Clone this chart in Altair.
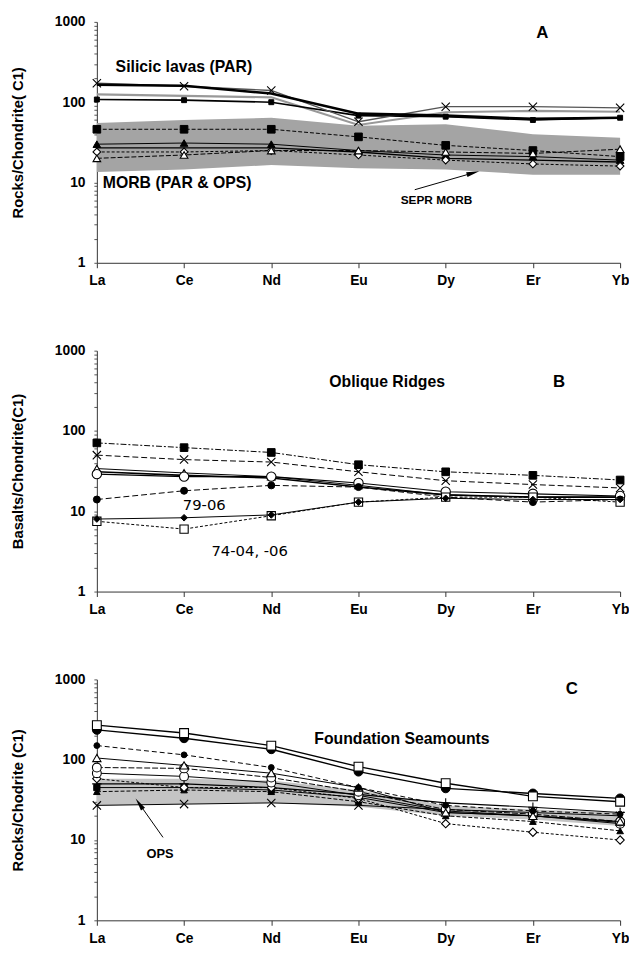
import altair as alt
import pandas as pd

EL = ["La", "Ce", "Nd", "Eu", "Dy", "Er", "Yb"]

# ---------------- Panel A ----------------
A_BAND_HI = [55, 60, 64, 51, 53, 40, 36]
A_BAND_LO = [13.5, 14.5, 16.5, 15, 14.5, 12.5, 12.5]
A_SIL1 = [165, 160, 128, 72, 68, 62, 64]
A_SIL2 = [172, 158, 140, 57, 88, 88, 85]
A_SIL3 = [125, 120, 115, 52, 75, 78, 76]
A_SIL4 = [108, 106, 100, 68, 66, 60, 64]
A_MORB1 = [46, 46, 46, 37, 29, 25, 21]
A_MORB2 = [30, 31, 30, 25, 22, 21, 19]
A_MORB3 = [20, 22, 25, 25, 24, 23, 26]
A_MORB4 = [27, 27, 27, 24, 20, 19, 18]
A_SEPR = [24, 24, 25, 22, 19, 17, 16]

# ---------------- Panel B ----------------
B_S1 = [71, 62, 54, 38, 31, 28, 24.5]
B_S2 = [50, 44, 41, 31, 24, 21.5, 19.5]
B_S3 = [34, 30, 27, 21, 16, 15, 15]
B_S4 = [29, 27, 27, 22.5, 17.5, 16.5, 15.5]
B_S5 = [31, 28, 26, 20, 16, 15, 15]
B_7906 = [14, 18, 21, 20, 15, 13, 14]
B_7404 = [8, 8.3, 9, 13, 14.5, 14, 14]
B_7406 = [7.5, 6, 8.8, 13, 15, 15, 13]

# ---------------- Panel C ----------------
C_BAND_HI = [58, 58, 55, 42, 27, 24, 22]
C_BAND_LO = [27, 28, 29, 26, 20, 18, 15]
C_S1 = [270, 215, 150, 82, 51, 35, 30]
C_S2 = [235, 185, 135, 71, 44, 38, 33]
C_S3 = [150, 115, 80, 45, 27, 23, 21]
C_S4 = [105, 85, 68, 45, 22, 20, 17]
C_S5 = [80, 78, 60, 40, 24, 21, 17]
C_S6 = [68, 62, 52, 36, 23, 20, 16]
C_S7 = [58, 45, 45, 33, 16, 12.5, 10]
C_S8 = [27, 28, 29, 27, 24, 22, 20]
C_S9 = [50, 50, 45, 37, 29, 25.6, 22]
C_S10 = [40, 42, 40, 30, 20, 17, 13]
C_S11 = [45, 45, 42, 34, 22, 20, 16.6]

Y_TICKS = [1, 2, 3, 4, 5, 6, 7, 8, 9, 10, 20, 30, 40, 50, 60, 70, 80, 90,
           100, 200, 300, 400, 500, 600, 700, 800, 900, 1000]

XPATH = "M-1,-1L1,1M-1,1L1,-1"
PLUS = "M-1,0L1,0M0,-1L0,1"
ARROW = "M1,0L-1,-0.38L-1,0.38Z"

FONT = "Liberation Sans Narrow, Liberation Sans, Arial"
W, H = 530, 244


def xy(title):
    x = alt.X("el:N", sort=EL,
              scale=alt.Scale(type="point", padding=0, domain=EL),
              axis=alt.Axis(title=None, labelAngle=0, labelFontSize=14,
                            labelFontWeight="bold", labelFont=FONT,
                            labelPadding=6, tickSize=5, labelColor="black",
                            domainColor="#333", tickColor="#333"))
    y = alt.Y("v:Q", scale=alt.Scale(type="log", domain=[1, 1000], nice=False),
              axis=alt.Axis(title=title, values=Y_TICKS,
                            labelExpr="(datum.value==1||datum.value==10||datum.value==100||datum.value==1000) ? ''+datum.value : ''",
                            labelFontSize=14, labelFontWeight="bold", labelFont=FONT,
                            labelColor="black", labelPadding=9, tickSize=3,
                            titleFontSize=15, titleFont="Liberation Sans",
                            titleFontWeight="bold", titlePadding=29,
                            titleColor="black", domainColor="#333", tickColor="#555"))
    return x, y


def series(vals, x, y, shape=None, filled=True, dash=None, width=1.2,
           color="black", size=60):
    d = pd.DataFrame({"el": EL, "v": vals})
    kw = dict(color=color, strokeWidth=width)
    if dash:
        kw["strokeDash"] = dash
    layers = [alt.Chart(d).mark_line(**kw).encode(x=x, y=y)]
    if shape:
        if filled:
            pk = dict(shape=shape, filled=True, fill="black", stroke="black",
                      strokeWidth=1, size=size, opacity=1)
        else:
            pk = dict(shape=shape, filled=True, fill="white", stroke="black",
                      strokeWidth=1.1, size=size, opacity=1)
        layers.append(alt.Chart(d).mark_point(**pk).encode(x=x, y=y))
    return layers


def band(hi, lo, x, color):
    d = pd.DataFrame({"el": EL, "hi": hi, "lo": lo})
    return alt.Chart(d).mark_area(color=color, opacity=1).encode(
        x=x, y=alt.Y("hi:Q", scale=alt.Scale(type="log", domain=[1, 1000], nice=False)),
        y2="lo:Q")


ONE = pd.DataFrame({"a": [0]})


def text(t, px, py, size=14, weight="bold", align="left", font="Liberation Sans"):
    return alt.Chart(ONE).mark_text(text=t, fontSize=size, fontWeight=weight,
                                    align=align, baseline="middle", font=font,
                                    color="black").encode(
        x=alt.value(px), y=alt.value(py))


def arrow(x1, y1, x2, y2, ang):
    r = alt.Chart(ONE).mark_rule(color="black", strokeWidth=1).encode(
        x=alt.value(x1), y=alt.value(y1), x2=alt.value(x2), y2=alt.value(y2))
    h = alt.Chart(ONE).mark_point(shape=ARROW, filled=True, color="black",
                                  size=170, angle=ang, opacity=1).encode(
        x=alt.value(x2), y=alt.value(y2))
    return [r, h]


# ---------- Panel A ----------
x, y = xy("Rocks/Chondrite( C1)")
la = [band(A_BAND_HI, A_BAND_LO, x, "#a4a4a4")]
la += series(A_MORB1, x, y, "square", True, [4, 2], 1.0)
la += series(A_MORB2, x, y, "triangle-up", True, None, 1.0)
la += series(A_MORB4, x, y, None, True, None, 1.4)
la += series(A_SEPR, x, y, "diamond", False, [3, 2], 1.0)
la += series(A_MORB3, x, y, "triangle-up", False, [5, 2], 1.0)
la += series(A_SIL3, x, y, None, True, None, 2.2, "#999")
la += series(A_SIL4, x, y, "square", True, None, 1.6, "black", 25)
la += series(A_SIL2, x, y, XPATH, False, None, 1.4, "#555", 70)
la += series(A_SIL1, x, y, None, True, None, 2.6)
la += [text("A", 445, 11, 17), text("Silicic lavas (PAR)", 19, 46, 16),
       text("MORB (PAR & OPS)", 6, 163, 16),
       text("SEPR MORB", 344, 180, 12, align="center", font=FONT)]
la += arrow(322, 170, 381, 153, 344)
panelA = alt.layer(*la).properties(width=W, height=H)

# ---------- Panel B ----------
x, y = xy("Basalts/Chondrite(C1)")
lb = []
lb += series(B_S1, x, y, "square", True, [6, 2, 2, 2], 1.0)
lb += series(B_S2, x, y, XPATH, False, [6, 3], 1.0, "black", 70)
lb += series(B_S5, x, y, None, True, None, 1.6)
lb += series(B_S3, x, y, "triangle-up", False, None, 1.0)
lb += series(B_S4, x, y, "circle", False, None, 1.2, "black", 90)
lb += series(B_7906, x, y, "circle", True, [6, 3], 1.0, "black", 50)
lb += series(B_7406, x, y, "square", False, [3, 2], 1.0, "black", 70)
lb += series(B_7404, x, y, "diamond", True, None, 1.0, "black", 45)
lb += [text("Oblique Ridges", 294, 32, 16, align="center"), text("B", 462, 32, 17),
       text("79-06", 87, 156, 15, "normal", font="DejaVu Sans"),
       text("74-04,  -06", 116, 203, 15, "normal", font="DejaVu Sans")]
panelB = alt.layer(*lb).properties(width=W, height=H)

# ---------- Panel C ----------
x, y = xy("Rocks/Chodrite (C1)")
lc = [band(C_BAND_HI, C_BAND_LO, x, "#c4c4c4")]
lc += series(C_S8, x, y, XPATH, False, None, 1.0, "black", 70)
lc += series(C_S11, x, y, "square", True, None, 1.0, "black", 40)
lc += series(C_S10, x, y, "triangle-up", True, [4, 2], 1.0, "black", 45)
lc += series(C_S9, x, y, PLUS, False, None, 1.2, "black", 90)
lc += series(C_S7, x, y, "diamond", False, [3, 2], 1.0, "black", 70)
lc += series(C_S6, x, y, "circle", False, None, 1.0, "black", 80)
lc += series(C_S5, x, y, "circle", False, [6, 2], 1.0, "black", 80)
lc += series(C_S4, x, y, "triangle-up", False, None, 1.0, "black", 70)
lc += series(C_S3, x, y, "circle", True, [5, 3], 1.0, "black", 35)
lc += series(C_S2, x, y, "circle", True, None, 1.4, "black", 80)
lc += series(C_S1, x, y, "square", False, None, 1.4, "black", 80)
lc += [text("C", 475, 10, 17), text("Foundation Seamounts", 309, 60, 16, align="center"),
       text("OPS", 64, 177, 13, align="center", font=FONT)]
lc += arrow(67, 160, 43, 126, 235)
panelC = alt.layer(*lc).properties(width=W, height=H)

chart = alt.vconcat(panelA, panelB, panelC, spacing=57).properties(
    padding={"left": 2, "top": 1, "right": 0, "bottom": 0}
).configure_view(stroke=None).configure_axis(grid=False)

chart.save("out.html", embed_options={"renderer": "svg", "actions": False})
